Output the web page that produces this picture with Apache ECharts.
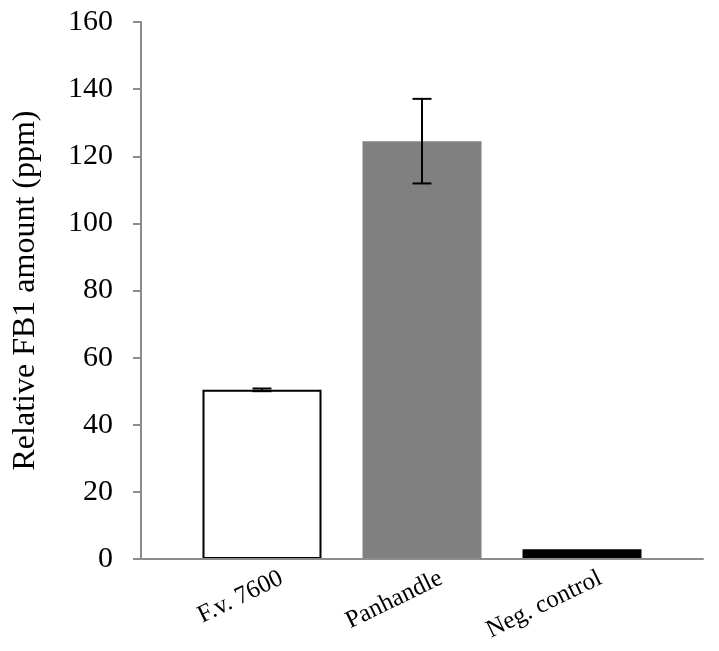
<!DOCTYPE html>
<html>
<head>
<meta charset="utf-8">
<script src="https://cdn.jsdelivr.net/npm/echarts@6/dist/echarts.min.js"></script>
<style>
  html, body { margin: 0; padding: 0; background: #fff; }
  #chart { width: 719px; height: 651px; }
</style>
</head>
<body>
<div id="chart"></div>
<script>
  // data
  var categories = ['F.v. 7600', 'Panhandle', 'Neg. control'];
  var means = [50.4, 124.5, 2.9];
  var errors = [0.4, 12.6, 0];
  var barColors = ['#ffffff', '#808080', '#000000'];
  var yTicks = { min: 0, max: 160, interval: 20 };

  var font = 'Liberation Serif';
  var axisGray = '#8c8c8c';

  var chart = echarts.init(document.getElementById('chart'));

  chart.setOption({
    backgroundColor: '#fff',
    animation: false,
    grid: [
      // frame with the axes
      { left: 141, right: 16, top: 22, bottom: 92 },
      // bars
      { left: 182, right: 57, top: 22, bottom: 92 },
      // category labels (shifted a bit, like the original)
      { left: 202, right: 39, top: 22, bottom: 92 }
    ],
    xAxis: [
      {
        gridIndex: 0, type: 'category', data: [''], z: 10,
        axisLine: { lineStyle: { color: axisGray, width: 2 } },
        axisTick: { show: false }, axisLabel: { show: false }
      },
      {
        gridIndex: 1, type: 'category', data: categories,
        axisLine: { show: false }, axisTick: { show: false }, axisLabel: { show: false }
      },
      {
        gridIndex: 2, type: 'category', data: categories,
        axisLine: { show: false }, axisTick: { show: false },
        axisLabel: {
          rotate: 26, margin: 18, interval: 0,
          fontFamily: font, fontSize: 25, color: '#000'
        }
      }
    ],
    yAxis: [
      {
        gridIndex: 0, type: 'value', z: 10,
        min: yTicks.min, max: yTicks.max, interval: yTicks.interval,
        name: 'Relative FB1 amount (ppm)',
        nameLocation: 'middle', nameGap: 99,
        nameTextStyle: { fontFamily: font, fontSize: 32, color: '#000' },
        axisLine: { show: true, lineStyle: { color: axisGray, width: 2 } },
        axisTick: { show: true, length: 8, lineStyle: { color: axisGray, width: 2 } },
        axisLabel: { margin: 28, fontFamily: font, fontSize: 30, color: '#000' },
        splitLine: { show: false }
      },
      {
        gridIndex: 1, type: 'value', min: yTicks.min, max: yTicks.max,
        show: false, splitLine: { show: false }
      },
      {
        gridIndex: 2, type: 'value', min: yTicks.min, max: yTicks.max,
        show: false, splitLine: { show: false }
      }
    ],
    series: [
      {
        type: 'bar',
        xAxisIndex: 1, yAxisIndex: 1,
        barWidth: 119,
        data: means.map(function (v, i) {
          return {
            value: v,
            itemStyle: {
              color: barColors[i],
              borderColor: '#000',
              borderWidth: i === 0 ? 2 : 0
            }
          };
        })
      },
      {
        type: 'custom',
        xAxisIndex: 1, yAxisIndex: 1,
        z: 5,
        data: means.map(function (v, i) { return [i, v - errors[i], v + errors[i]]; }),
        renderItem: function (params, api) {
          if (errors[api.value(0)] === 0) return null;
          var lo = api.coord([api.value(0), api.value(1)]);
          var hi = api.coord([api.value(0), api.value(2)]);
          var half = 9.5;
          var style = { stroke: '#000', lineWidth: 2 };
          return {
            type: 'group',
            children: [
              { type: 'line', shape: { x1: hi[0], y1: hi[1], x2: lo[0], y2: lo[1] }, style: style },
              { type: 'line', shape: { x1: hi[0] - half, y1: hi[1], x2: hi[0] + half, y2: hi[1] }, style: style },
              { type: 'line', shape: { x1: lo[0] - half, y1: lo[1], x2: lo[0] + half, y2: lo[1] }, style: style }
            ]
          };
        }
      }
    ]
  });
</script>
</body>
</html>
